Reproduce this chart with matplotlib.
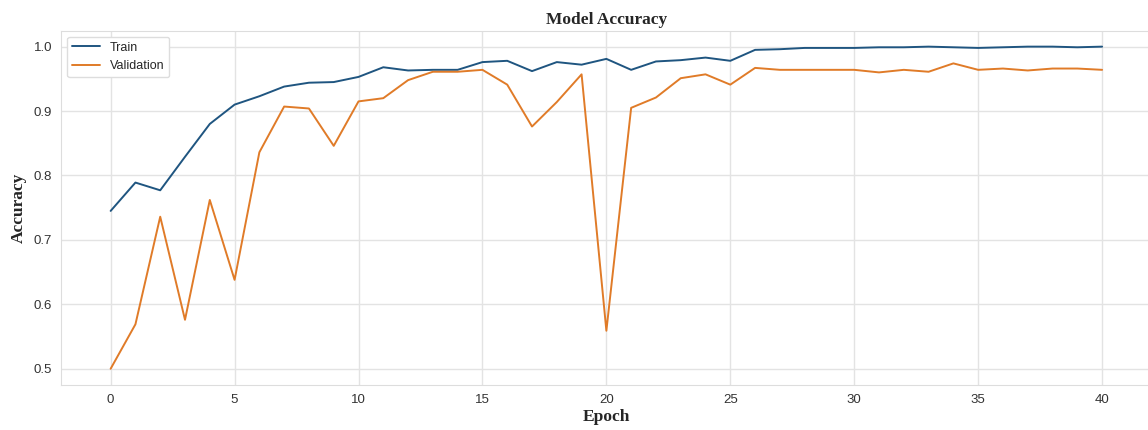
import matplotlib
matplotlib.use("Agg")
import matplotlib.pyplot as plt
import seaborn as sns

# Accuracy per epoch
epochs = list(range(41))
train_acc = [
    0.745, 0.789, 0.777, 0.829, 0.880, 0.910, 0.923, 0.938, 0.944, 0.945,
    0.953, 0.968, 0.963, 0.964, 0.964, 0.976, 0.978, 0.962, 0.976, 0.972,
    0.981, 0.964, 0.977, 0.979, 0.983, 0.978, 0.995, 0.996, 0.998, 0.998,
    0.998, 0.999, 0.999, 1.000, 0.999, 0.998, 0.999, 1.000, 1.000, 0.999,
    1.000,
]
val_acc = [
    0.500, 0.569, 0.736, 0.576, 0.762, 0.638, 0.836, 0.907, 0.904, 0.846,
    0.915, 0.920, 0.948, 0.961, 0.961, 0.964, 0.941, 0.876, 0.914, 0.957,
    0.559, 0.905, 0.921, 0.951, 0.957, 0.941, 0.967, 0.964, 0.964, 0.964,
    0.964, 0.960, 0.964, 0.961, 0.974, 0.964, 0.966, 0.963, 0.966, 0.966,
    0.964,
]

sns.set_style("whitegrid")
plt.rcParams["font.family"] = ["Liberation Sans", "DejaVu Sans"]

fig = plt.figure(figsize=(11.48, 4.30), dpi=100)
ax = fig.add_axes([0.0532, 0.105, 0.950, 0.824])

ax.plot(epochs, train_acc, color="#1f5580", linewidth=1.4, label="Train")
ax.plot(epochs, val_acc, color="#e07b28", linewidth=1.4, label="Validation")

ax.set_xticks(range(0, 41, 5))
ax.set_yticks([0.5, 0.6, 0.7, 0.8, 0.9, 1.0])
ax.tick_params(labelsize=9.5, colors="#333333", pad=3)
for s in ax.spines.values():
    s.set_color("#dddddd")
ax.grid(color="#e3e3e3", linewidth=1)

serif = ["Liberation Serif", "DejaVu Serif"]
ax.set_title("Model Accuracy", family=serif, fontweight="bold", fontsize=12.5, pad=5)
ax.set_xlabel("Epoch", family=serif, fontweight="bold", fontsize=12.5, labelpad=2)
ax.set_ylabel("Accuracy", family=serif, fontweight="bold", fontsize=12.5, labelpad=5)

ax.legend(loc="upper left", fontsize=9, frameon=True, framealpha=1,
          edgecolor="#dddddd", handlelength=2.2, borderaxespad=0.5)

fig.savefig("out.png", dpi=100)
